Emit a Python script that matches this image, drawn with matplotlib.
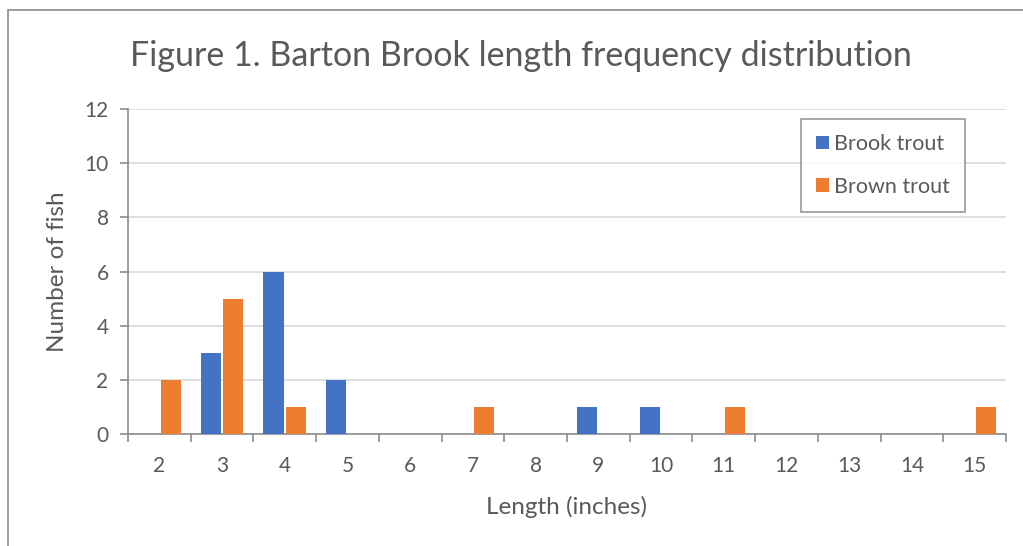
import matplotlib
matplotlib.use("Agg")
import matplotlib.pyplot as plt
import numpy as np
from matplotlib.patches import Rectangle

lengths = ["2", "3", "4", "5", "6", "7", "8", "9", "10", "11", "12", "13", "14", "15"]
brook = [0, 3, 6, 2, 0, 0, 0, 1, 1, 0, 0, 0, 0, 0]
brown = [2, 5, 1, 0, 0, 1, 0, 0, 0, 1, 0, 0, 0, 1]
yticks = [0, 2, 4, 6, 8, 10, 12]

plt.rcParams['font.family'] = ['Lato', 'DejaVu Sans']
txt = '#595959'
W, H = 1023, 546
fig = plt.figure(figsize=(W/100, H/100), dpi=100)
# outer chart border
fig.patches.append(Rectangle((8/W, -0.1), 1.2, 1 - 10/H + 0.1, transform=fig.transFigure,
                             fill=False, edgecolor='#8c8c8c', lw=1.2))
ax = fig.add_axes([128/W, 1 - 434/H, (1006-128)/W, (434-109)/H])
x = np.arange(len(lengths))
w = 0.32
ax.bar(x - 0.18, brook, w, color='#4472c4', label='Brook trout', zorder=3)
ax.bar(x + 0.18, brown, w, color='#ed7d31', label='Brown trout', zorder=3)
ax.set_xlim(-0.5, len(lengths) - 0.5)
ax.set_ylim(0, 12)
ax.set_yticks(yticks)
ax.set_xticks(x)
ax.set_xticklabels(lengths)
ax.set_xticks(np.arange(-0.5, len(lengths), 1), minor=True)
ax.tick_params(axis='x', which='major', length=0, pad=16, labelsize=15, labelcolor=txt)
ax.tick_params(axis='x', which='minor', length=6, width=1.2, color='#8c8c8c', direction='out')
ax.tick_params(axis='y', length=6, width=1.2, color='#8c8c8c', labelsize=15, labelcolor=txt, pad=8)
ax.grid(axis='y', color='#d9d9d9', lw=1.2, zorder=0)
for s in ['top', 'right']:
    ax.spines[s].set_visible(False)
for s in ['left', 'bottom']:
    ax.spines[s].set_color('#8c8c8c')
    ax.spines[s].set_linewidth(1.2)
ax.set_xlabel('Length (inches)', fontsize=17.5, color=txt, labelpad=14)
ax.set_ylabel('Number of fish', fontsize=17.5, color=txt, labelpad=12)
fig.text(521/W, 1 - 56/H, 'Figure 1. Barton Brook length frequency distribution',
         ha='center', va='center', fontsize=24.5, color=txt)
leg = ax.legend(loc='upper left', bbox_to_anchor=((801-128)/(1006-128), (434-119)/(434-109)),
                frameon=True, fancybox=False, fontsize=15.5, labelcolor=txt,
                handlelength=0.6, handleheight=0.6, handletextpad=0.25,
                labelspacing=1.05, borderpad=0.7, borderaxespad=0)
leg.get_frame().set_edgecolor('#7f7f7f')
leg.get_frame().set_linewidth(1.2)
fig.savefig('out.png', dpi=100)
